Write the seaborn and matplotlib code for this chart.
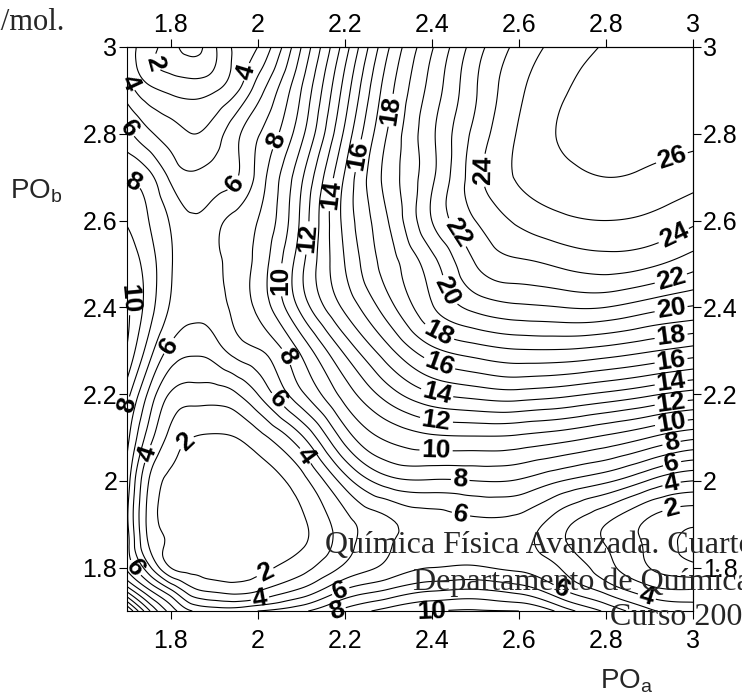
import numpy as np
import matplotlib
matplotlib.use("Agg")
import matplotlib.pyplot as plt
import matplotlib.tri as mtri
from matplotlib.ticker import FuncFormatter
import seaborn as sns

# grid (PO_a across, PO_b down from the top)
po_a = [1.70, 1.75, 1.80, 1.85, 1.90, 1.95, 2.00, 2.10, 2.20,
        2.30, 2.40, 2.50, 2.60, 2.70, 2.80, 2.90, 3.00]
po_b = [3.00, 2.95, 2.90, 2.80, 2.70, 2.60, 2.50, 2.40, 2.30,
        2.20, 2.10, 2.00, 1.90, 1.85, 1.80, 1.75, 1.70]
energy = [
    [3.5, 2.4, 1.4, 0.7, 1.8, 3.2, 4.0, 8.0, 12.5, 16.9, 19.9, 22.5, 24.3, 25.4, 26.1, 26.6, 26.8],
    [3.9, 2.3, 1.8, 1.5, 2.0, 3.3, 4.7, 8.5, 13.0, 17.3, 20.2, 22.8, 24.6, 25.7, 26.3, 26.6, 26.7],
    [4.5, 3.3, 2.8, 2.6, 2.9, 3.8, 5.5, 9.0, 13.4, 17.6, 20.4, 22.9, 24.8, 25.9, 26.4, 26.6, 26.6],
    [6.3, 5.2, 4.5, 4.0, 4.5, 5.7, 6.9, 9.7, 14.2, 18.1, 20.8, 23.3, 25.1, 26.1, 26.4, 26.4, 26.3],
    [7.9, 7.3, 5.8, 5.2, 5.4, 5.9, 7.3, 10.8, 15.1, 18.4, 20.8, 23.6, 25.1, 25.7, 26.0, 25.8, 25.4],
    [8.9, 8.0, 6.9, 6.1, 6.6, 7.3, 8.0, 11.2, 15.3, 18.0, 21.0, 23.0, 24.2, 24.8, 25.0, 24.8, 24.2],
    [9.7, 8.5, 7.1, 6.5, 6.8, 7.4, 8.3, 11.7, 15.0, 17.5, 19.6, 22.0, 22.8, 23.2, 23.5, 23.2, 22.4],
    [10.2, 8.5, 6.9, 6.3, 6.5, 7.3, 8.2, 11.3, 14.2, 16.6, 18.9, 20.3, 20.8, 21.0, 21.0, 20.4, 19.9],
    [9.9, 7.5, 5.7, 5.2, 5.5, 6.4, 6.9, 9.2, 12.2, 14.7, 16.7, 17.5, 17.9, 17.9, 17.6, 17.1, 16.6],
    [8.4, 5.8, 3.9, 3.5, 3.5, 3.9, 5.0, 7.8, 10.4, 12.5, 13.9, 14.4, 14.6, 14.3, 13.8, 13.2, 12.6],
    [7.3, 4.5, 2.7, 2.0, 1.9, 2.0, 2.6, 4.8, 8.4, 10.2, 10.8, 10.9, 10.8, 10.4, 9.8, 9.0, 8.2],
    [6.6, 3.0, 1.8, 1.5, 1.4, 1.3, 1.5, 2.6, 5.5, 7.6, 7.9, 8.0, 7.9, 7.0, 6.2, 4.9, 4.0],
    [6.2, 2.7, 1.7, 1.4, 1.2, 1.2, 1.3, 1.8, 3.6, 4.8, 5.5, 5.8, 5.6, 4.3, 3.0, 1.8, 1.1],
    [6.4, 3.0, 1.8, 1.4, 1.3, 1.3, 1.4, 1.9, 3.6, 4.9, 5.6, 5.7, 5.3, 4.2, 3.0, 1.8, 0.6],
    [6.8, 4.3, 2.0, 1.7, 1.6, 1.6, 1.8, 2.6, 4.2, 5.3, 6.0, 6.1, 5.8, 4.9, 3.4, 2.0, 1.3],
    [9.5, 7.0, 5.0, 3.2, 2.7, 2.5, 2.8, 4.1, 6.0, 7.0, 7.8, 8.0, 7.5, 6.0, 4.6, 3.3, 3.0],
    [14.2, 10.2, 7.6, 6.0, 5.6, 5.6, 6.0, 6.8, 8.3, 9.4, 10.0, 10.1, 10.0, 8.6, 6.8, 5.2, 4.6],
]
odd_levels = list(range(1, 27, 2))
even_levels = list(range(2, 27, 2))
tick_values = [1.8, 2.0, 2.2, 2.4, 2.6, 2.8, 3.0]

# where the reference puts its contour labels (data coordinates)
label_spots = [
    (1.746, 2.96), (1.71, 2.92), (1.987, 2.94), (1.71, 2.816), (1.71, 2.68),
    (1.705, 2.42), (1.953, 2.68), (2.04, 2.785), (2.067, 2.463), (2.113, 2.56),
    (2.166, 2.66), (2.227, 2.75), (2.30, 2.855), (2.515, 2.716), (2.447, 2.562),
    (2.426, 2.433), (2.414, 2.336), (2.414, 2.26), (2.41, 2.193), (2.41, 2.135),
    (2.41, 2.076), (2.465, 1.997), (2.465, 1.914), (2.95, 2.75), (2.955, 2.567),
    (2.95, 2.463), (2.95, 2.394), (2.95, 2.331), (2.95, 2.274), (2.95, 2.225),
    (2.95, 2.179), (2.95, 2.136), (2.95, 2.09), (2.95, 2.048), (2.95, 1.997),
    (2.95, 1.937), (1.783, 2.32), (1.715, 2.163), (1.753, 2.06), (1.838, 2.087),
    (2.063, 2.285), (2.05, 2.19), (2.10, 2.05), (2.02, 1.783), (2.005, 1.73),
    (1.72, 1.80), (2.19, 1.748), (2.18, 1.707), (2.385, 1.70), (2.695, 1.744),
    (2.89, 1.72),
]

sns.set_style("ticks")
plt.rcParams["font.family"] = ["Liberation Sans", "DejaVu Sans"]
plt.rcParams["axes.edgecolor"] = "black"
plt.rcParams["xtick.color"] = "black"
plt.rcParams["ytick.color"] = "black"
plt.rcParams["axes.linewidth"] = 0.8

W, H = 742, 695
fig = plt.figure(figsize=(W / 100, H / 100), dpi=100)
ax = fig.add_axes([127 / W, 1 - 611 / H, (693 - 127) / W, (611 - 47) / H])

gx, gy = np.meshgrid(po_a, po_b)
tri = mtri.Triangulation(gx.ravel(), gy.ravel())
refiner = mtri.UniformTriRefiner(tri)
tri_f, z_f = refiner.refine_field(np.asarray(energy).ravel(), subdiv=4)

ax.tricontour(tri_f, z_f, levels=odd_levels, colors="black", linewidths=0.8)
cs = ax.tricontour(tri_f, z_f, levels=even_levels, colors="black", linewidths=0.8)
texts = ax.clabel(cs, manual=label_spots, inline=True,
                  fmt="%d", fontsize=19, inline_spacing=2)
for t in texts:
    t.set_fontweight("bold")
    t.set_clip_on(False)

ax.set_xlim(1.7, 3.0)
ax.set_ylim(1.7, 3.0)
fmt = FuncFormatter(lambda v, _: f"{v:g}")
ax.set_xticks(tick_values)
ax.set_yticks(tick_values)
ax.xaxis.set_major_formatter(fmt)
ax.yaxis.set_major_formatter(fmt)
ax.tick_params(axis="x", direction="out", length=6, width=0.8, labelsize=18, pad=7)
ax.tick_params(axis="y", direction="out", length=6, width=0.8, labelsize=18, pad=1)

top = ax.secondary_xaxis("top")
top.set_xticks(tick_values)
top.xaxis.set_major_formatter(fmt)
top.tick_params(direction="out", length=6, width=0.8, labelsize=18, pad=1)
right = ax.secondary_yaxis("right")
right.set_yticks(tick_values)
right.yaxis.set_major_formatter(fmt)
right.tick_params(direction="out", length=6, width=0.8, labelsize=18, pad=1)

fig.text(10 / W, 1 - 198 / H, "PO$_\\mathregular{b}$", fontsize=20, va="baseline")
fig.text(600 / W, 1 - 688 / H, "PO$_\\mathregular{a}$", fontsize=20, va="baseline")

serif = ["Liberation Serif", "DejaVu Serif"]
fig.text(65 / W, 1 - 30 / H, "kcal/mol.", fontsize=22, family=serif,
         ha="right", va="baseline")
fig.text(325 / W, 1 - 553 / H, "Química Física Avanzada. Cuarto curso",
         fontsize=23, family=serif, va="baseline")
fig.text(413 / W, 1 - 590 / H, "Departamento de Química Física",
         fontsize=23, family=serif, va="baseline")
fig.text(610 / W, 1 - 625 / H, "Curso 2004-2005",
         fontsize=23, family=serif, va="baseline")

fig.savefig("out.png", dpi=100)
